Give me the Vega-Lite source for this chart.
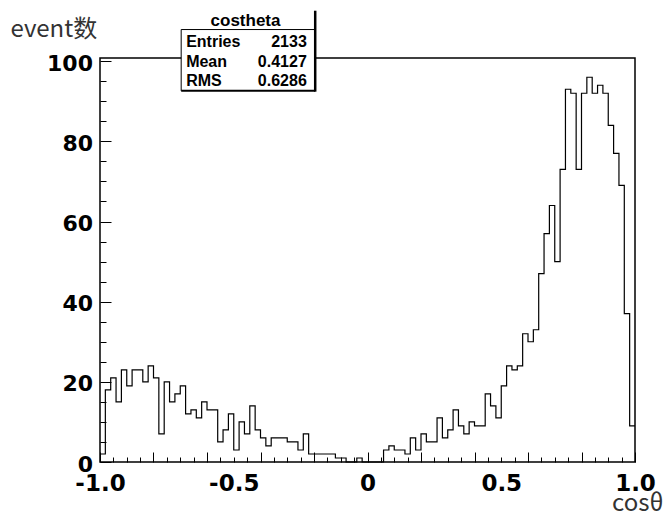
{
  "$schema": "https://vega.github.io/schema/vega-lite/v6.json",
  "width": 535,
  "height": 404,
  "autosize": "none",
  "padding": {"left": 100, "top": 58, "right": 35, "bottom": 53},
  "background": "white",
  "config": {"view": {"stroke": "black", "strokeWidth": 1.5}},
  "datasets": {
    "hist": [
      {"x": -1.00, "n": 2}, {"x": -0.98, "n": 18}, {"x": -0.96, "n": 21}, {"x": -0.94, "n": 15}, {"x": -0.92, "n": 23},
      {"x": -0.90, "n": 19}, {"x": -0.88, "n": 23}, {"x": -0.86, "n": 23}, {"x": -0.84, "n": 20}, {"x": -0.82, "n": 24},
      {"x": -0.80, "n": 21}, {"x": -0.78, "n": 7}, {"x": -0.76, "n": 20}, {"x": -0.74, "n": 15}, {"x": -0.72, "n": 17},
      {"x": -0.70, "n": 19}, {"x": -0.68, "n": 12}, {"x": -0.66, "n": 13}, {"x": -0.64, "n": 11}, {"x": -0.62, "n": 15},
      {"x": -0.60, "n": 13}, {"x": -0.58, "n": 13}, {"x": -0.56, "n": 5}, {"x": -0.54, "n": 8}, {"x": -0.52, "n": 12},
      {"x": -0.50, "n": 3}, {"x": -0.48, "n": 10}, {"x": -0.46, "n": 7}, {"x": -0.44, "n": 14}, {"x": -0.42, "n": 8},
      {"x": -0.40, "n": 6}, {"x": -0.38, "n": 4}, {"x": -0.36, "n": 6}, {"x": -0.34, "n": 6}, {"x": -0.32, "n": 6},
      {"x": -0.30, "n": 5}, {"x": -0.28, "n": 5}, {"x": -0.26, "n": 3}, {"x": -0.24, "n": 7}, {"x": -0.22, "n": 2},
      {"x": -0.20, "n": 2}, {"x": -0.18, "n": 2}, {"x": -0.16, "n": 2}, {"x": -0.14, "n": 2}, {"x": -0.12, "n": 1},
      {"x": -0.10, "n": 1}, {"x": -0.08, "n": 0}, {"x": -0.06, "n": 0}, {"x": -0.04, "n": 1}, {"x": -0.02, "n": 0},
      {"x": 0.00, "n": 0}, {"x": 0.02, "n": 0}, {"x": 0.04, "n": 0}, {"x": 0.06, "n": 3}, {"x": 0.08, "n": 4},
      {"x": 0.10, "n": 3}, {"x": 0.12, "n": 3}, {"x": 0.14, "n": 2}, {"x": 0.16, "n": 6}, {"x": 0.18, "n": 3},
      {"x": 0.20, "n": 7}, {"x": 0.22, "n": 5}, {"x": 0.24, "n": 5}, {"x": 0.26, "n": 11}, {"x": 0.28, "n": 6},
      {"x": 0.30, "n": 8}, {"x": 0.32, "n": 13}, {"x": 0.34, "n": 9}, {"x": 0.36, "n": 7}, {"x": 0.38, "n": 10},
      {"x": 0.40, "n": 9}, {"x": 0.42, "n": 9}, {"x": 0.44, "n": 17}, {"x": 0.46, "n": 14}, {"x": 0.48, "n": 11},
      {"x": 0.50, "n": 19}, {"x": 0.52, "n": 24}, {"x": 0.54, "n": 23}, {"x": 0.56, "n": 24}, {"x": 0.58, "n": 32},
      {"x": 0.60, "n": 30}, {"x": 0.62, "n": 33}, {"x": 0.64, "n": 47}, {"x": 0.66, "n": 57}, {"x": 0.68, "n": 64},
      {"x": 0.70, "n": 50}, {"x": 0.72, "n": 73}, {"x": 0.74, "n": 93}, {"x": 0.76, "n": 92}, {"x": 0.78, "n": 73},
      {"x": 0.80, "n": 92}, {"x": 0.82, "n": 96}, {"x": 0.84, "n": 92}, {"x": 0.86, "n": 94}, {"x": 0.88, "n": 92},
      {"x": 0.90, "n": 84}, {"x": 0.92, "n": 77}, {"x": 0.94, "n": 69}, {"x": 0.96, "n": 37}, {"x": 0.98, "n": 9},
      {"x": 1.00, "n": 9}
    ],
    "stats": [
      {"stat": "Entries", "val": "2133"},
      {"stat": "Mean", "val": "0.4127"},
      {"stat": "RMS", "val": "0.6286"}
    ],
    "box": [{"name": "costheta"}]
  },
  "resolve": {"axis": {"x": "independent", "y": "independent"}},
  "layer": [
    {
      "data": {"name": "hist"},
      "mark": {"type": "line", "interpolate": "step-after", "strokeOpacity": 0},
      "encoding": {
        "x": {
          "field": "x", "type": "quantitative",
          "scale": {"domain": [-1, 1], "nice": false, "zero": false},
          "axis": {
            "orient": "bottom",
            "values": [-0.95, -0.9, -0.85, -0.75, -0.7, -0.65, -0.55, -0.5, -0.45, -0.35, -0.3, -0.25, -0.15, -0.1, -0.05, 0.05, 0.1, 0.15, 0.25, 0.3, 0.35, 0.45, 0.5, 0.55, 0.65, 0.7, 0.75, 0.85, 0.9, 0.95],
            "domain": false, "grid": false, "labels": false, "title": null,
            "tickColor": "black", "tickWidth": 1, "tickSize": -5
          }
        },
        "y": {
          "field": "n", "type": "quantitative",
          "scale": {"domain": [0, 100.8], "nice": false, "zero": true},
          "axis": {
            "orient": "left",
            "values": [5, 10, 15, 25, 30, 35, 45, 50, 55, 65, 70, 75, 85, 90, 95],
            "domain": false, "grid": false, "labels": false, "title": null,
            "tickColor": "black", "tickWidth": 1, "tickSize": -6
          }
        }
      }
    },
    {
      "data": {"name": "hist"},
      "mark": {"type": "line", "interpolate": "step-after", "strokeOpacity": 0},
      "encoding": {
        "x": {
          "field": "x", "type": "quantitative",
          "axis": {
            "orient": "bottom",
            "values": [-1, -0.8, -0.6, -0.4, -0.2, 0, 0.2, 0.4, 0.6, 0.8, 1],
            "domain": false, "grid": false, "labels": false, "title": null,
            "tickColor": "black", "tickWidth": 1, "tickSize": -10
          }
        },
        "y": {
          "field": "n", "type": "quantitative",
          "axis": {
            "orient": "left",
            "values": [0, 20, 40, 60, 80, 100],
            "domain": false, "grid": false, "labels": false, "title": null,
            "tickColor": "black", "tickWidth": 1, "tickSize": -11
          }
        }
      }
    },
    {
      "data": {"name": "hist"},
      "mark": {"type": "line", "interpolate": "step-after", "color": "black", "strokeWidth": 1.2},
      "encoding": {
        "x": {
          "field": "x", "type": "quantitative",
          "axis": {
            "orient": "bottom",
            "values": [-1, -0.5, 0, 0.5, 1],
            "domain": false, "grid": false, "ticks": false,
            "labelExpr": "datum.value < -0.75 ? '-1.0' : datum.value < -0.25 ? '-0.5' : datum.value < 0.25 ? '0' : datum.value < 0.75 ? '0.5' : '1.0'",
            "labelFont": "DejaVu Sans", "labelFontWeight": "bold", "labelFontSize": 23, "labelColor": "black",
            "labelPadding": 10.5, "labelBaseline": "top", "labelFlush": false, "labelOverlap": false,
            "title": "cosθ", "titleFont": "Noto Sans CJK SC", "titleFontWeight": "normal", "titleFontSize": 24,
            "titleColor": "#333333", "titleX": 563, "titleY": 48, "titleAlign": "right", "titleBaseline": "alphabetic"
          }
        },
        "y": {
          "field": "n", "type": "quantitative",
          "axis": {
            "orient": "left",
            "values": [0, 20, 40, 60, 80, 100],
            "domain": false, "grid": false, "ticks": false,
            "labelFont": "DejaVu Sans", "labelFontWeight": "bold", "labelFontSize": 22, "labelColor": "black",
            "labelPadding": 7.5, "labelFlush": false, "labelOverlap": false, "labelOffset": 2,
            "title": "event数", "titleFont": "Noto Sans CJK SC", "titleFontWeight": "normal", "titleFontSize": 24,
            "titleColor": "#333333", "titleAngle": 0, "titleX": -90, "titleY": -22, "titleAlign": "left", "titleBaseline": "alphabetic"
          }
        }
      }
    },
    {
      "data": {"name": "box"},
      "mark": {"type": "rect", "fill": "white", "strokeWidth": 0},
      "encoding": {"x": {"datum": -0.6965, "axis": null}, "x2": {"datum": -0.1955}, "y": {"datum": 112.7, "axis": null}, "y2": {"datum": 92.6}}
    },
    {
      "data": {"name": "box"},
      "mark": {"type": "rule", "color": "black", "strokeWidth": 1},
      "encoding": {"x": {"datum": -0.6965, "axis": null}, "x2": {"datum": -0.1955}, "y": {"datum": 107.9, "axis": null}}
    },
    {
      "data": {"name": "box"},
      "mark": {"type": "rule", "color": "black", "strokeWidth": 1},
      "encoding": {"x": {"datum": -0.6965, "axis": null}, "y": {"datum": 107.9, "axis": null}, "y2": {"datum": 92.6}}
    },
    {
      "data": {"name": "box"},
      "mark": {"type": "rule", "color": "black", "strokeWidth": 2},
      "encoding": {"x": {"datum": -0.6965, "axis": null}, "x2": {"datum": -0.1955}, "y": {"datum": 92.6, "axis": null}}
    },
    {
      "data": {"name": "box"},
      "mark": {"type": "rule", "color": "black", "strokeWidth": 2.5},
      "encoding": {"x": {"datum": -0.1955, "axis": null}, "y": {"datum": 112.6, "axis": null}, "y2": {"datum": 92.4}}
    },
    {
      "data": {"name": "box"},
      "mark": {"type": "text", "font": "Liberation Sans", "fontWeight": "bold", "fontSize": 17, "align": "center", "baseline": "middle", "color": "black"},
      "encoding": {"text": {"field": "name"}, "x": {"datum": -0.456, "axis": null}, "y": {"datum": 110.05, "axis": null}}
    },
    {
      "data": {"name": "stats"},
      "mark": {"type": "text", "font": "Liberation Sans", "fontWeight": "bold", "fontSize": 16, "align": "left", "baseline": "middle", "color": "black"},
      "encoding": {
        "text": {"field": "stat"},
        "x": {"datum": -0.678, "axis": null},
        "y": {"datum": 104.8, "axis": null},
        "yOffset": {"field": "stat", "type": "nominal", "scale": {"type": "point", "domain": ["Entries", "Mean", "RMS"], "range": [0, 39.4], "padding": 0}}
      }
    },
    {
      "data": {"name": "stats"},
      "mark": {"type": "text", "font": "Liberation Sans", "fontWeight": "bold", "fontSize": 16, "align": "right", "baseline": "middle", "color": "black"},
      "encoding": {
        "text": {"field": "val"},
        "x": {"datum": -0.227, "axis": null},
        "y": {"datum": 104.8, "axis": null},
        "yOffset": {"field": "stat", "type": "nominal", "scale": {"type": "point", "domain": ["Entries", "Mean", "RMS"], "range": [0, 39.4], "padding": 0}}
      }
    }
  ]
}
